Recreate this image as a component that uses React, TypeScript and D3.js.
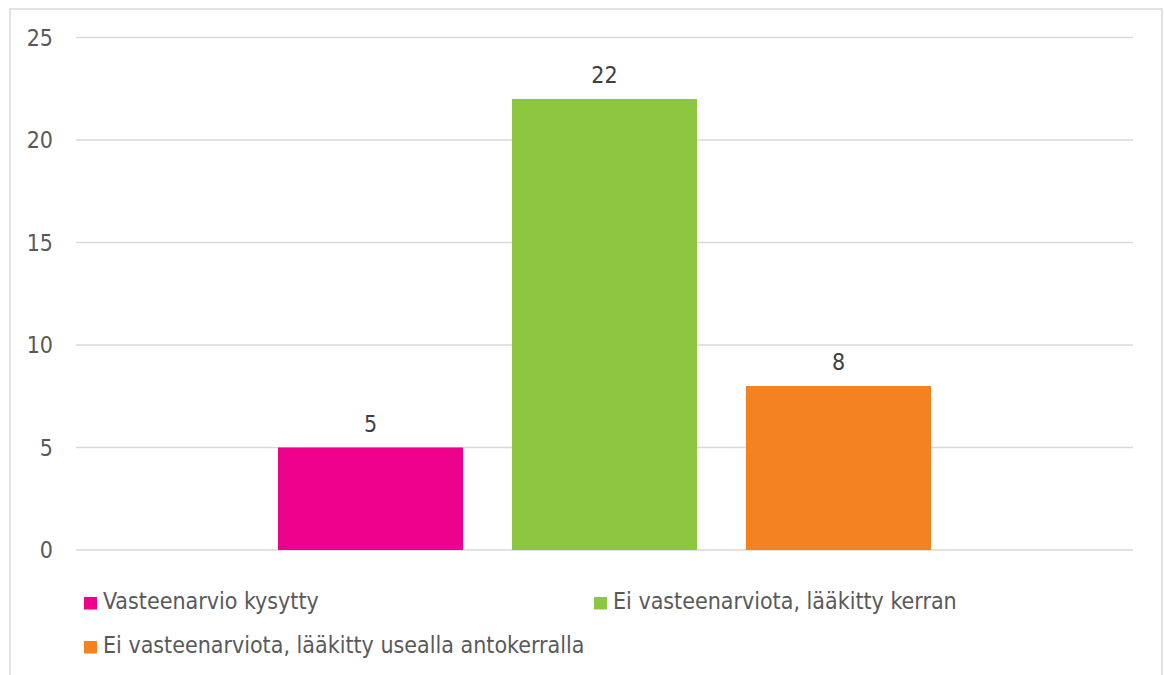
import React from "react";
import * as d3 from "d3";

// Data
const seriesNames: string[] = [
  "Vasteenarvio kysytty",
  "Ei vasteenarviota, lääkitty kerran",
  "Ei vasteenarviota, lääkitty usealla antokerralla",
];
const seriesValues: number[] = [5, 22, 8];
const seriesColors: string[] = ["#EC008C", "#8DC63F", "#F58220"];
const yTicks: number[] = [0, 5, 10, 15, 20, 25];

const W = 1165;
const H = 675;
const FONT = "'DejaVu Sans Condensed', 'DejaVu Sans', sans-serif";
const TEXT = "#595959";

export default function App() {
  const plot = { left: 76, right: 1133, top: 37.5, bottom: 550 };
  const groupInset = 202;

  const y = d3.scaleLinear().domain([0, 25]).range([plot.bottom, plot.top]);

  // the three series are clustered inside a single category
  const x = d3
    .scaleBand<string>()
    .domain(seriesNames)
    .range([plot.left + groupInset, plot.right - groupInset])
    .paddingInner(0.209)
    .paddingOuter(0);

  const legendItems = [
    { i: 0, x: 84, y: 601 },
    { i: 1, x: 594, y: 601 },
    { i: 2, x: 84, y: 645 },
  ];

  return (
    <svg
      width={W}
      height={H}
      style={{ position: "absolute", left: 0, top: 0, background: "#fff" }}
    >
      <rect
        x={10}
        y={9}
        width={1152}
        height={H + 10}
        fill="#fff"
        stroke="#d9d9d9"
        strokeWidth={1.5}
      />
      {yTicks.map((t) => (
        <g key={t}>
          <line
            x1={plot.left}
            x2={plot.right}
            y1={y(t)}
            y2={y(t)}
            stroke="#d9d9d9"
            strokeWidth={1.5}
          />
          <text
            x={53}
            y={y(t)}
            dy="0.36em"
            textAnchor="end"
            fontFamily={FONT}
            fontSize={23}
            fill={TEXT}
          >
            {t}
          </text>
        </g>
      ))}
      {seriesNames.map((s, i) => (
        <g key={s}>
          <rect
            x={x(s)}
            y={y(seriesValues[i])}
            width={x.bandwidth()}
            height={y(0) - y(seriesValues[i])}
            fill={seriesColors[i]}
          />
          <text
            x={x(s)! + x.bandwidth() / 2}
            y={y(seriesValues[i]) - 16}
            textAnchor="middle"
            fontFamily={FONT}
            fontSize={23}
            fill="#404040"
          >
            {seriesValues[i]}
          </text>
        </g>
      ))}
      {legendItems.map((it) => (
        <g key={it.i}>
          <rect
            x={it.x}
            y={it.y - 4}
            width={13}
            height={12.5}
            fill={seriesColors[it.i]}
          />
          <text
            x={it.x + 19}
            y={it.y}
            dy="0.36em"
            fontFamily={FONT}
            fontSize={23}
            fill={TEXT}
          >
            {seriesNames[it.i]}
          </text>
        </g>
      ))}
    </svg>
  );
}
